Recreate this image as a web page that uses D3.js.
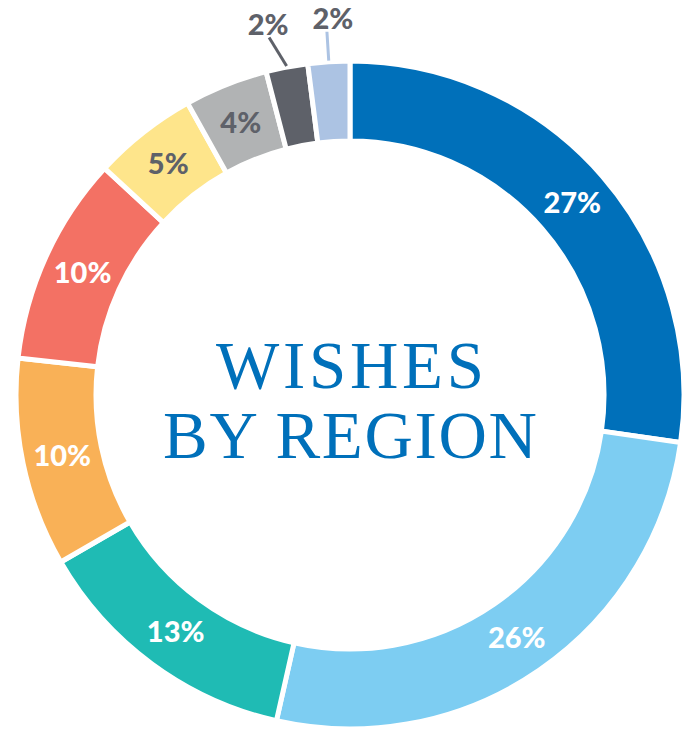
<!DOCTYPE html>
<html>
<head>
<meta charset="utf-8">
<script src="https://cdn.jsdelivr.net/npm/d3@7"></script>
<style type="text/css">
  body{
    margin: 0px;
    background: white;
  }
  .pct{
    font-family: 'Lato', 'Open Sans', sans-serif;
    font-weight: 900;
    font-size: 29px;
  }
  .title{
    font-family: 'Liberation Serif', serif;
    font-size: 67px;
    fill: #0070ba;
  }
</style>
</head>
<body>
<svg id="chart" width="691" height="733"></svg>
<script>

// slices, clockwise from 12 o'clock
var regions = ['r1','r2','r3','r4','r5','r6','r7','r8','r9'];
var values  = [27, 26, 13, 10, 10, 5, 4, 2, 2];
var colors  = ['#0070ba','#7dcdf2','#1fbbb4','#f9b157','#f37164','#fee58b','#b1b3b4','#5e6169','#acc3e3'];
var labelColors = ['#fff','#fff','#fff','#fff','#fff','#5e6169','#5e6169','#5e6169','#5e6169'];
var outside = [false,false,false,false,false,false,false,true,true];
var titleLines = ['WISHES', 'BY REGION'];

var width = 691, height = 733;
var cx = 350, cy = 395;
var outerR = 334, innerR = 254;

var svg = d3.select('#chart');
var g = svg.append('g').attr('transform', 'translate(' + cx + ',' + cy + ')');

var data = values.map(function(v,i) {
  return {id: regions[i], value: v, color: colors[i], labelColor: labelColors[i], outside: outside[i]};
});

var pie = d3.pie().sort(null).value(function(d) { return d.value; });
var arc = d3.arc().innerRadius(innerR).outerRadius(outerR);
var labelArc = d3.arc().innerRadius(innerR + 36).outerRadius(outerR - 36);

var arcs = pie(data);

g.selectAll('path.slice')
  .data(arcs)
  .enter()
  .append('path')
  .attr('class', 'slice')
  .attr('d', arc)
  .attr('fill', function(d) { return d.data.color; })
  .attr('stroke', 'white')
  .attr('stroke-width', 5)
  .attr('stroke-linejoin', 'miter');

// inside labels
g.selectAll('text.inside')
  .data(arcs.filter(function(d) { return !d.data.outside; }))
  .enter()
  .append('text')
  .attr('class', 'pct inside')
  .attr('transform', function(d) { return 'translate(' + labelArc.centroid(d) + ')'; })
  .attr('text-anchor', 'middle')
  .attr('dy', '0.36em')
  .attr('fill', function(d) { return d.data.labelColor; })
  .text(function(d) { return d.data.value + '%'; });

// outside labels with leader lines
var lineColors = {r8: '#5e6169', r9: '#acc3e3'};
var leanX = {r8: -12, r9: 0};
var textShift = {r8: -1, r9: 6};
var outerArcs = arcs.filter(function(d) { return d.data.outside; });

function polar(a, r) { return [Math.sin(a) * r, -Math.cos(a) * r]; }

outerArcs.forEach(function(d) {
  var mid = (d.startAngle + d.endAngle) / 2;
  var p0 = polar(mid, outerR + 1);
  var p1 = polar(mid, outerR + 30);
  p1[0] += leanX[d.data.id];
  g.append('line')
    .attr('x1', p0[0]).attr('y1', p0[1])
    .attr('x2', p1[0]).attr('y2', p1[1])
    .attr('stroke', lineColors[d.data.id])
    .attr('stroke-width', 3);
  g.append('text')
    .attr('class', 'pct')
    .attr('x', p1[0] + textShift[d.data.id])
    .attr('y', p1[1] - 3)
    .attr('text-anchor', 'middle')
    .attr('fill', '#5e6169')
    .text(d.data.value + '%');
});

// title, stretched with letter spacing to fill the hole
var titleWidths = [268, 374];
var titleBase = [-7, 63];
titleLines.forEach(function(t, i) {
  var txt = g.append('text')
    .attr('class', 'title')
    .attr('y', titleBase[i])
    .text(t);
  var w = txt.node().getComputedTextLength();
  var ls = (titleWidths[i] - w) / (t.length - 1);
  txt.style('letter-spacing', ls + 'px')
    .attr('x', -titleWidths[i] / 2);
});

</script>
</body>
</html>
